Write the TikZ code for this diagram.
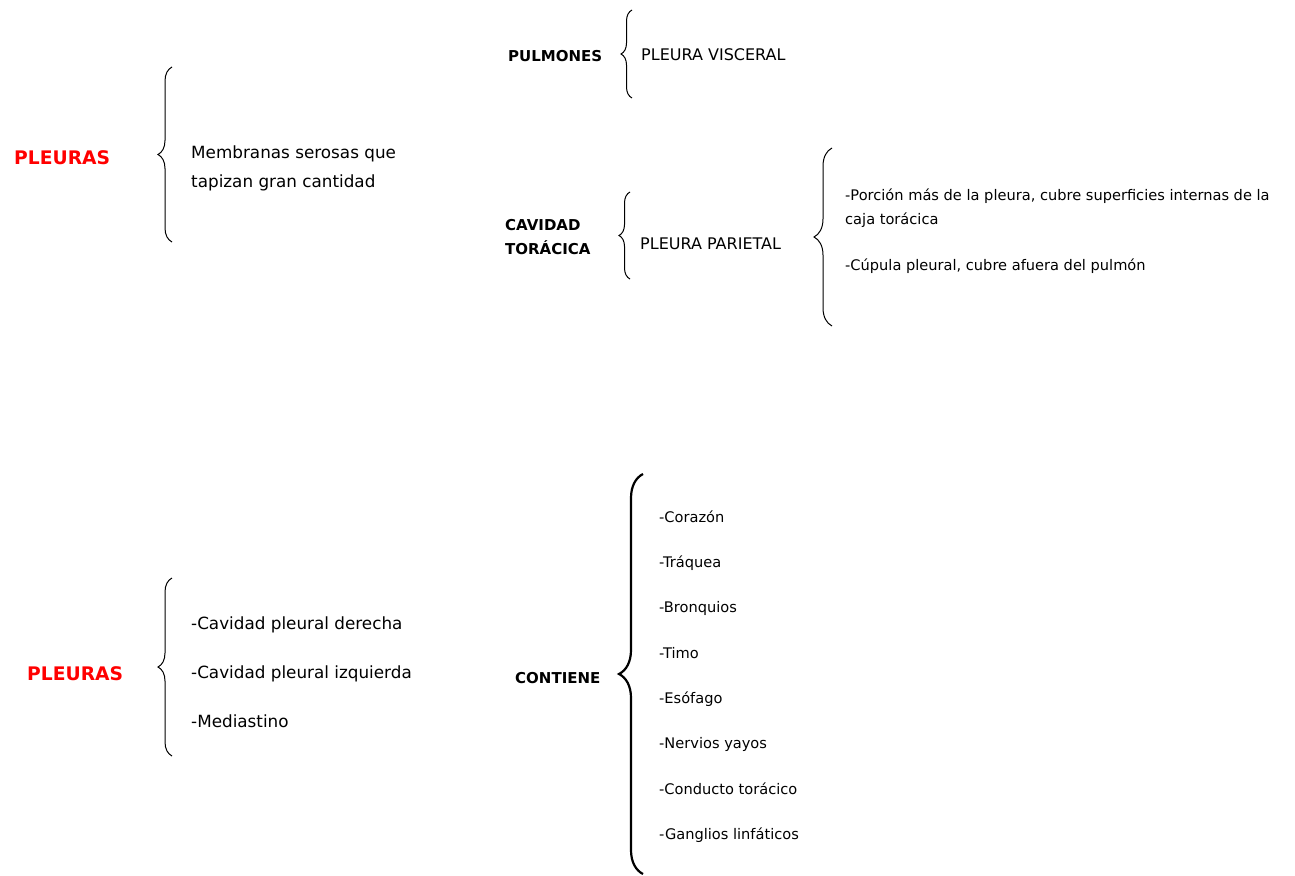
\documentclass[tikz,border=0pt]{standalone}
\usepackage{fontspec}
\setmainfont{DejaVu Sans}
\usetikzlibrary{decorations.pathreplacing}
\begin{document}
\begin{tikzpicture}[x=1pt,y=-1pt,
  txt/.style={anchor=base west,inner sep=0pt,font=\fontsize{16.8}{20}\selectfont},
  small/.style={anchor=base west,inner sep=0pt,font=\fontsize{14.6}{18}\selectfont},
  caps/.style={anchor=base west,inner sep=0pt,font=\fontsize{16}{19}\selectfont},
  head/.style={anchor=base west,inner sep=0pt,font=\bfseries\fontsize{15}{18}\selectfont},
  title/.style={anchor=base west,inner sep=0pt,text=red,font=\bfseries\fontsize{18.7}{22}\selectfont},
  bracedraw/.style={draw=black,line width=1pt,decorate,decoration={brace,amplitude=#1}},
  bracedraw/.default=14]
\useasboundingbox (0,0) rectangle (1295,875);
\fill[white] (0,0) rectangle (1295,875);

% ---------- top part ----------
\node[title] (p1) at (14,164) {PLEURAS};
\coordinate (b1t) at (172,67);
\coordinate (b1b) at (172,242);
\draw[bracedraw=14] (b1b) -- (b1t);
\node[txt] (m1) at (191,158) {Membranas serosas que};
\node[txt] (m2) at (191,187) {tapizan gran cantidad};

\node[head] (pul) at (508,62) {PULMONES};
\coordinate (b2t) at (632,10);
\coordinate (b2b) at (632,98);
\draw[bracedraw=11] (b2b) -- (b2t);
\node[caps] (vis) at (641,61) {PLEURA VISCERAL};

\node[head] (cav) at (505,230) {CAVIDAD};
\node[head] (tor) at (505,254) {TORÁCICA};
\coordinate (b3t) at (630,192);
\coordinate (b3b) at (630,279);
\draw[bracedraw=11] (b3b) -- (b3t);
\node[caps] (par) at (640,249) {PLEURA PARIETAL};

\coordinate (b4t) at (832,148);
\coordinate (b4b) at (832,326);
\draw[bracedraw=18] (b4b) -- (b4t);
\node[small] (r1) at (845,200) {-Porción más de la pleura, cubre superficies internas de la};
\node[small] (r2) at (845,224) {caja torácica};
\node[small] (r3) at (845,270) {-Cúpula pleural, cubre afuera del pulmón};

% ---------- bottom part ----------
\node[title] (p2) at (27,680) {PLEURAS};
\coordinate (b5t) at (172,578);
\coordinate (b5b) at (172,756);
\draw[bracedraw=14] (b5b) -- (b5t);
\node[txt] (c1) at (191,629) {-Cavidad pleural derecha};
\node[txt] (c2) at (191,678) {-Cavidad pleural izquierda};
\node[txt] (c3) at (191,727) {-Mediastino};

\node[head] (con) at (515,683) {CONTIENE};
\coordinate (b6t) at (643,474);
\coordinate (b6b) at (643,874);
\draw[bracedraw=24,line width=2.2pt] (b6b) -- (b6t);
\node[small] (i1) at (659,522) {-Corazón};
\node[small] (i2) at (659,567) {-Tráquea};
\node[small] (i3) at (659,612) {-Bronquios};
\node[small] (i4) at (659,658) {-Timo};
\node[small] (i5) at (659,703) {-Esófago};
\node[small] (i6) at (659,748) {-Nervios yayos};
\node[small] (i7) at (659,794) {-Conducto torácico};
\node[small] (i8) at (659,839) {-Ganglios linfáticos};
\end{tikzpicture}
\end{document}
